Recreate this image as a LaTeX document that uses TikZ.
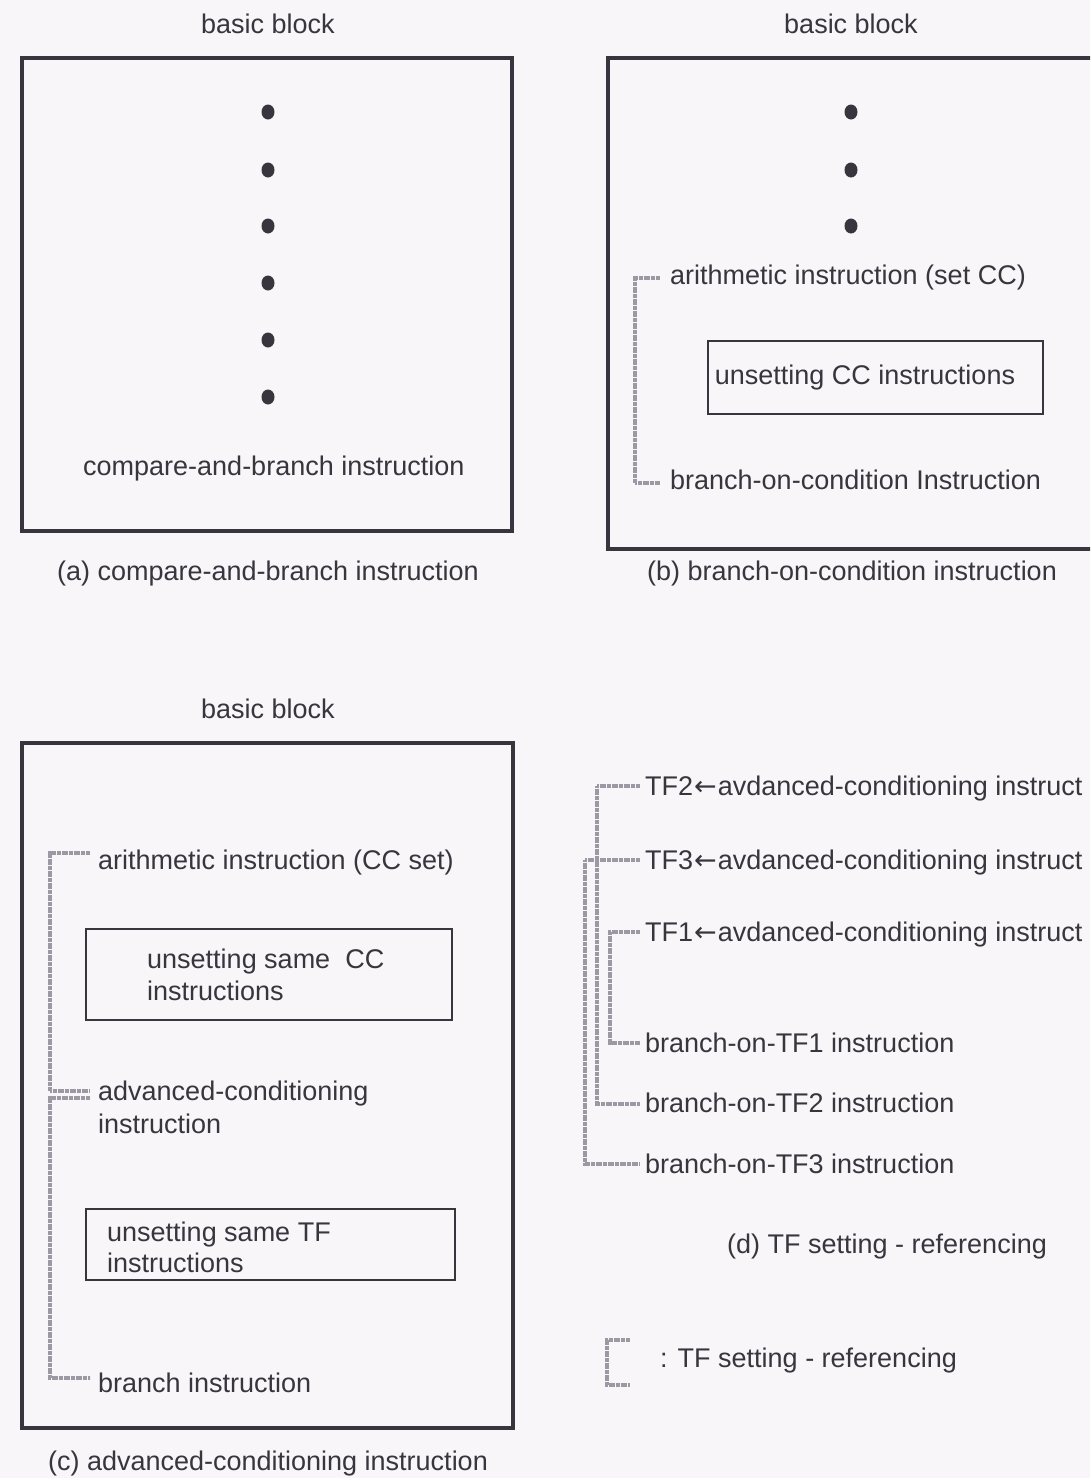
\documentclass[tikz,border=0pt]{standalone}
\usepackage{fontspec}
\setmainfont{Liberation Sans}
\newfontfamily\arrowfont{DejaVu Sans}
\usetikzlibrary{calc}
\definecolor{ink}{RGB}{58,52,62}
\definecolor{hatch}{RGB}{158,152,164}
\definecolor{paper}{RGB}{248,246,248}
\newcommand{\setarrow}{{\arrowfont\kern1pt←\kern1pt}}
\begin{document}
\begin{tikzpicture}[x=1pt,y=-1pt,
  every node/.style={font=\fontsize{27}{32}\selectfont, text=ink, inner sep=0pt},
  txt/.style={anchor=base west},
  ctr/.style={anchor=base},
  outerbox/.style={draw=ink, line width=3.4pt},
  innerbox/.style={draw=ink, line width=1.8pt},
  dot/.style={fill=ink, draw=none},
  brk/.style={draw=hatch, line width=3.2pt, dash pattern=on 2pt off 0.4pt}]
% page
\fill[paper] (0,0) rectangle (1090,1478);
\clip (0,0) rectangle (1090,1478);

% ---------- (a) compare-and-branch ----------
\node[ctr] (bbA) at (268,33) {basic block};
\draw[outerbox] (22,58) rectangle (512,531);
\foreach \yy in {112,170,226,283,340,397}
  \fill[dot] (268,\yy) ellipse (6.5 and 7.5);
\node[txt] (cmpA) at (83,475) {compare-and-branch instruction};
\node[ctr] (capA) at (268,580) {(a) compare-and-branch instruction};

% ---------- (b) branch-on-condition ----------
\node[ctr] (bbB) at (851,33) {basic block};
\draw[outerbox] (608,58) rectangle (1110,549);
\foreach \yy in {112,170,226}
  \fill[dot] (851,\yy) ellipse (6.5 and 7.5);
\node[txt] (arB) at (670,284) {arithmetic instruction (set CC)};
\draw[innerbox] (708,341) rectangle (1043,414);
\node (unB) at (865,378) {unsetting CC instructions};
\node[txt] (brB) at (670,489) {branch-on-condition Instruction};
\draw[brk] (660,278) -- (635,278) -- (635,483) -- (660,483);
\node[ctr] (capB) at (852,580) {(b) branch-on-condition instruction};

% ---------- (c) advanced-conditioning ----------
\node[ctr] (bbC) at (268,718) {basic block};
\draw[outerbox] (22,743) rectangle (513,1428);
\node[txt] (arC) at (98,869) {arithmetic instruction (CC set)};
\draw[innerbox] (86,929) rectangle (452,1020);
\node[txt] (unC1a) at (147,968) {unsetting same\ \ CC};
\node[txt] (unC1b) at (147,1000) {instructions};
\node[txt] (acC1) at (98,1100) {advanced-conditioning};
\node[txt] (acC2) at (98,1133) {instruction};
\draw[innerbox] (86,1209) rectangle (455,1280);
\node[txt] (unC2a) at (107,1241) {unsetting same TF};
\node[txt] (unC2b) at (107,1272) {instructions};
\node[txt] (brC) at (98,1392) {branch instruction};
\draw[brk] (90,853) -- (50,853) -- (50,1091) -- (90,1091);
\draw[brk] (90,1098) -- (50,1098) -- (50,1378) -- (90,1378);
\node[ctr] (capC) at (268,1470) {(c) advanced-conditioning instruction};

% ---------- (d) TF setting - referencing ----------
\node[txt] (tf2) at (645,795) {TF2\setarrow avdanced-conditioning instruct};
\node[txt] (tf3) at (645,869) {TF3\setarrow avdanced-conditioning instruct};
\node[txt] (tf1) at (645,941) {TF1\setarrow avdanced-conditioning instruct};
\node[txt] (b1) at (645,1052) {branch-on-TF1 instruction};
\node[txt] (b2) at (645,1112) {branch-on-TF2 instruction};
\node[txt] (b3) at (645,1173) {branch-on-TF3 instruction};
\draw[brk] (640,786) -- (597,786) -- (597,1104) -- (640,1104);
\draw[brk] (640,860) -- (585,860) -- (585,1164) -- (640,1164);
\draw[brk] (640,932) -- (610,932) -- (610,1043) -- (640,1043);
\node[ctr] (capD) at (887,1253) {(d) TF setting - referencing};

% legend
\draw[brk] (630,1340) -- (607,1340) -- (607,1385) -- (630,1385);
\node[txt] (leg) at (660,1367) {: TF setting - referencing};
\end{tikzpicture}
\end{document}
